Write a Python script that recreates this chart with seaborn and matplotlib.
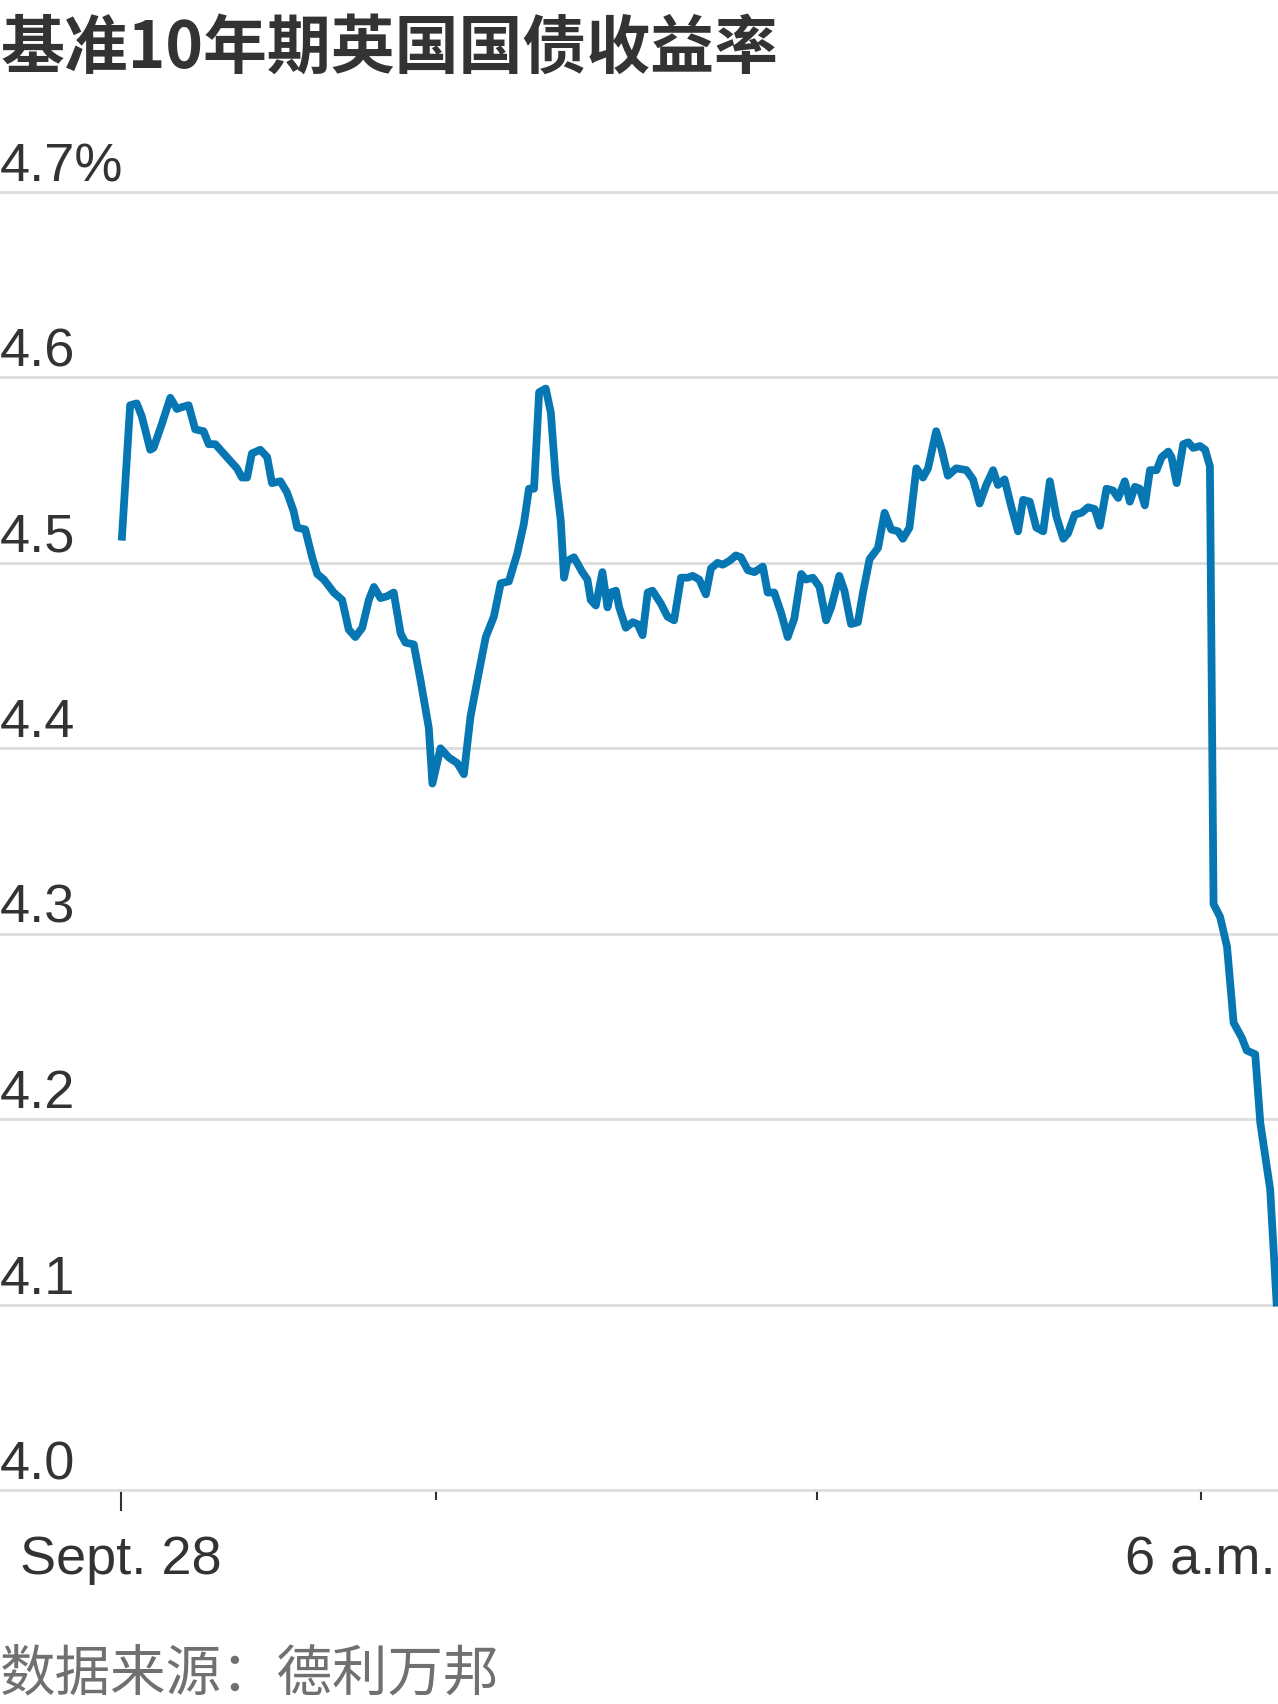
import numpy as np
import pandas as pd
import matplotlib as mpl
mpl.use("Agg")
import matplotlib.pyplot as plt
import seaborn as sns

# minutes after midnight ET on Sept. 28
minutes = [0.2, 3.0, 5.2, 6.9, 9.7, 10.8, 13.6, 16.4, 18.6, 20.3, 22.5, 24.7, 27.5, 29.2,
           31.4, 35.3, 38.6, 40.3, 42.0, 43.6, 46.4, 48.7, 50.3, 53.1, 55.3, 57.5, 58.7,
           61.4, 63.7, 65.4, 67.6, 70.9, 73.7, 75.9, 78.1, 80.4, 82.6, 84.3, 86.5, 88.7,
           90.9, 93.2, 94.8, 97.6, 99.8, 102.6, 103.8, 106.5, 109.3, 112.1, 114.3, 116.5,
           119.3, 121.6, 124.3, 126.6, 129.3, 132.1, 134.3, 136.0, 137.7, 139.4, 141.6,
           143.3, 144.9, 146.6, 147.7, 148.8, 151.0, 153.8, 155.5, 156.6, 158.3, 160.5,
           162.2, 163.3, 165.0, 166.1, 168.3, 170.6, 172.2, 173.9, 175.6, 177.2, 180.0,
           182.2, 184.4, 186.7, 188.9, 190.6, 192.8, 195.0, 196.7, 198.9, 200.6, 202.8,
           205.0, 206.7, 209.0, 211.2, 214.0, 215.6, 217.8, 220.1, 222.3, 224.5, 226.8,
           228.4, 230.7, 232.9, 235.1, 236.8, 239.5, 241.2, 243.4, 245.7, 247.4, 249.6,
           252.4, 254.6, 256.8, 259.1, 260.7, 262.9, 265.2, 267.4, 269.1, 271.8, 273.5,
           275.7, 278.5, 281.9, 284.1, 286.3, 288.5, 290.8, 292.4, 294.6, 296.9, 299.1,
           300.8, 303.0, 305.2, 307.5, 309.7, 311.9, 314.2, 315.8, 318.0, 320.3, 322.5,
           324.7, 326.4, 328.6, 330.8, 332.5, 334.7, 336.4, 338.1, 339.7, 341.4, 343.1,
           345.3, 347.0, 349.2, 350.3, 352.0, 354.2, 355.9, 357.5, 359.8, 361.5, 363.1,
           364.3, 366.5, 368.8, 371.0, 373.7, 375.4, 378.2, 379.9, 383.2, 385.4]
yields = [4.512, 4.585, 4.586, 4.579, 4.561, 4.562, 4.575, 4.589, 4.583, 4.584, 4.585,
          4.572, 4.571, 4.564, 4.564, 4.557, 4.551, 4.546, 4.546, 4.559, 4.561, 4.557,
          4.543, 4.544, 4.538, 4.528, 4.519, 4.518, 4.503, 4.494, 4.491, 4.484, 4.480,
          4.464, 4.460, 4.465, 4.480, 4.487, 4.481, 4.482, 4.484, 4.462, 4.457, 4.456,
          4.437, 4.411, 4.381, 4.400, 4.395, 4.392, 4.386, 4.417, 4.441, 4.460, 4.471,
          4.489, 4.490, 4.505, 4.521, 4.540, 4.540, 4.592, 4.594, 4.581, 4.546, 4.523,
          4.492, 4.501, 4.503, 4.495, 4.491, 4.480, 4.477, 4.495, 4.476, 4.484, 4.485,
          4.476, 4.465, 4.468, 4.467, 4.461, 4.484, 4.485, 4.478, 4.471, 4.469, 4.492,
          4.492, 4.493, 4.491, 4.483, 4.497, 4.500, 4.499, 4.501, 4.504, 4.503, 4.496,
          4.495, 4.498, 4.484, 4.484, 4.473, 4.460, 4.470, 4.494, 4.491, 4.492, 4.487,
          4.469, 4.476, 4.493, 4.485, 4.467, 4.468, 4.484, 4.502, 4.508, 4.527, 4.518,
          4.517, 4.513, 4.519, 4.551, 4.546, 4.551, 4.571, 4.562, 4.547, 4.551, 4.550,
          4.545, 4.532, 4.542, 4.550, 4.542, 4.545, 4.530, 4.517, 4.534, 4.533, 4.519,
          4.517, 4.544, 4.525, 4.513, 4.516, 4.526, 4.527, 4.530, 4.529, 4.520, 4.540,
          4.539, 4.535, 4.544, 4.533, 4.541, 4.540, 4.531, 4.550, 4.550, 4.557, 4.560,
          4.557, 4.543, 4.564, 4.565, 4.562, 4.563, 4.561, 4.552, 4.316, 4.309, 4.293,
          4.252, 4.244, 4.237, 4.235, 4.198, 4.162, 4.099]

ytick_vals = [4.0, 4.1, 4.2, 4.3, 4.4, 4.5, 4.6, 4.7]
ytick_labels = ["4.0", "4.1", "4.2", "4.3", "4.4", "4.5", "4.6", "4.7%"]
major_x = [0]
major_x_labels = ["Sept. 28"]
minor_x = [105, 232, 360]
minor_x_labels = ["", "", "6 a.m."]

title = "基准10年期英国国债收益率"
source = "数据来源：德利万邦"

df = pd.DataFrame({"minutes": minutes, "yield": yields})

sns.set_theme(style="white")
plt.rcParams['font.family'] = ['Liberation Sans', 'Noto Sans CJK SC', 'DejaVu Sans']

W, H = 1278, 1704
fig = plt.figure(figsize=(W / 100, H / 100), dpi=100)
fig.patch.set_facecolor("white")

top_px, bot_px = 192, 1490
ax = fig.add_axes([0, 1 - bot_px / H, 1, (bot_px - top_px) / H])

sns.lineplot(data=df, x="minutes", y="yield", ax=ax, color="#0677b3",
             linewidth=5.6, solid_joinstyle="round", solid_capstyle="butt")

ax.set_xlim(-40.4, 385.8)
ax.set_ylim(4.0, 4.7)
ax.set_xlabel("")
ax.set_ylabel("")
for s in ax.spines.values():
    s.set_visible(False)

ax.set_yticks(ytick_vals, ytick_labels)
ax.yaxis.grid(True, color="#dddddd", linewidth=2.0)
ax.xaxis.grid(False)
for gl in ax.get_ygridlines():
    gl.set_clip_on(False)
ax.tick_params(axis="y", length=0, pad=0, labelsize=39, labelcolor="#333333")
for lab in ax.get_yticklabels():
    lab.set_horizontalalignment("left")
    lab.set_verticalalignment("bottom")

ax.set_xticks(major_x, major_x_labels)
ax.set_xticks(minor_x, minor_x_labels, minor=True)
ax.tick_params(axis="x", which="major", direction="out", bottom=True, length=15,
               width=1.5, color="#333333", pad=17.5, labelsize=39, labelcolor="#333333")
ax.tick_params(axis="x", which="minor", direction="out", bottom=True, length=7.2,
               width=1.5, color="#333333", pad=25.3, labelsize=39, labelcolor="#333333")

fig.text(0.0, 1 - 16 / H, title, ha="left", va="top", fontsize=46, fontweight="bold",
         color="#333333", family=["Noto Sans CJK SC", "DejaVu Sans"])
fig.text(0.0, 1 - 1690 / H, source, ha="left", va="baseline", fontsize=40,
         color="#707070", family=["Noto Sans CJK SC", "DejaVu Sans"])

fig.savefig("out.png", dpi=100, facecolor="white")
